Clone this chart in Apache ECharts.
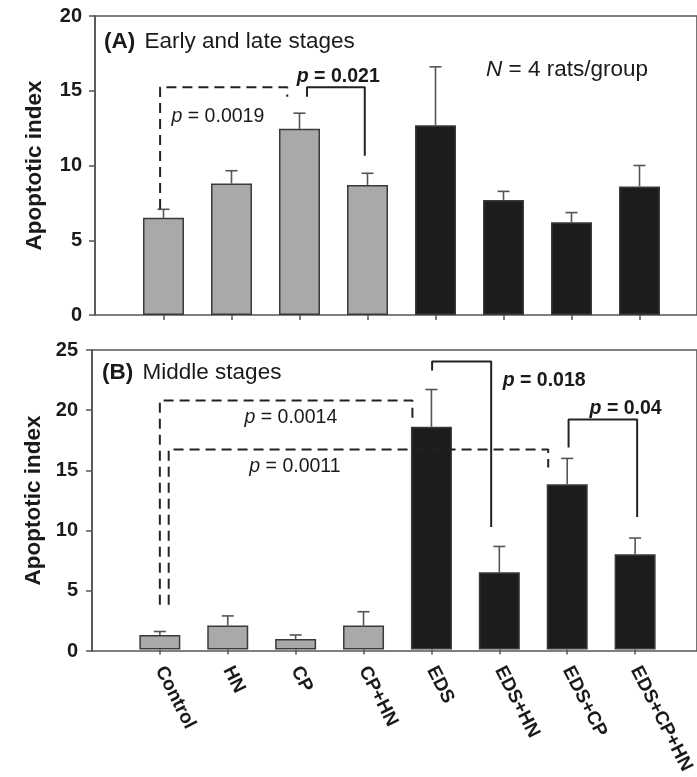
<!DOCTYPE html>
<html>
<head>
<meta charset="utf-8">
<script src="https://cdn.jsdelivr.net/npm/echarts@6/dist/echarts.min.js"></script>
<style>html,body{margin:0;padding:0;background:#fff;}#c{width:697px;height:777px;}</style>
</head>
<body>
<div id="c"></div>
<script>
var categories = ['Control', 'HN', 'CP', 'CP+HN', 'EDS', 'EDS+HN', 'EDS+CP', 'EDS+CP+HN'];
var earlyMean = [6.5, 8.8, 12.45, 8.7, 12.7, 7.7, 6.2, 8.6];
var earlySem = [0.57, 0.85, 1.05, 0.78, 3.9, 0.57, 0.65, 1.4];
var middleMean = [1.2, 2.0, 0.88, 2.0, 18.6, 6.45, 13.8, 7.95];
var middleSem = [0.3, 0.8, 0.33, 1.15, 3.1, 2.15, 2.15, 1.35];
var yTicksA = { min: 0, max: 20, interval: 5 };
var yTicksB = { min: 0, max: 25, interval: 5 };

// significance brackets: [x (category units), y (value)]
var bracketA1 = [[-0.05, 7.09], [-0.05, 15.23], [1.82, 15.23], [1.82, 14.6]];
var bracketA2 = [[2.11, 14.6], [2.11, 15.23], [2.96, 15.23], [2.96, 10.66]];
var bracketB1 = [[0.0, 3.74], [0.0, 20.79], [3.72, 20.79], [3.72, 19.19]];
var bracketB2 = [[0.13, 3.74], [0.13, 16.69], [5.72, 16.69], [5.72, 15.2]];
var bracketB3 = [[4.01, 23.28], [4.01, 24.03], [4.88, 24.03], [4.88, 10.22]];
var bracketB4 = [[6.02, 16.86], [6.02, 19.19], [7.03, 19.19], [7.03, 11.05]];
// p-value labels: [x, y, value text, bold]
var pLabelsA = [[0.80, 13.24, '0.0019', 0], [2.57, 15.92, '0.021', 1]];
var pLabelsB = [[1.93, 19.35, '0.0014', 0], [1.99, 15.28, '0.0011', 0], [5.66, 22.43, '0.018', 1], [6.86, 20.1, '0.04', 1]];

var FONT = 'Liberation Sans, Arial, Helvetica, sans-serif';
var TXT = '#1a1a1a';
var AX = '#555';

function barColor(p) { return p.dataIndex < 4 ? '#a9a9a9' : '#1c1c1c'; }

function errorSeries(means, sems, xi, yi) {
  return {
    type: 'custom', xAxisIndex: xi, yAxisIndex: yi, silent: true, z: 1,
    data: means.map(function (m, i) { return [i, m, sems[i]]; }),
    renderItem: function (params, api) {
      var x = api.value(0), m = api.value(1), s = api.value(2);
      var p0 = api.coord([x, m]);
      var p1 = api.coord([x, m + s]);
      var st = { stroke: AX, lineWidth: 1.6 };
      return {
        type: 'group', children: [
          { type: 'line', shape: { x1: p0[0], y1: p0[1], x2: p1[0], y2: p1[1] }, style: st },
          { type: 'line', shape: { x1: p1[0] - 6, y1: p1[1], x2: p1[0] + 6, y2: p1[1] }, style: st }
        ]
      };
    }
  };
}

function bracketSeries(data, dashed, xi, yi) {
  return {
    type: 'line', xAxisIndex: xi, yAxisIndex: yi, data: data, symbol: 'none', silent: true, z: 5,
    lineStyle: { color: '#222', width: 2, type: dashed ? [10, 6] : 'solid' }
  };
}

function pLabelSeries(data, xi, yi) {
  return {
    type: 'scatter', xAxisIndex: xi, yAxisIndex: yi, symbolSize: 1, silent: true, z: 6,
    itemStyle: { color: 'rgba(0,0,0,0)', opacity: 1 },
    data: data,
    label: {
      show: true, position: 'inside', color: TXT, opacity: 1, fontFamily: FONT,
      formatter: function (p) {
        var d = p.data;
        return d[3] ? '{bi|p}{b| = ' + d[2] + '}' : '{i|p}{n| = ' + d[2] + '}';
      },
      rich: {
        i: { fontStyle: 'italic', fontSize: 19.5, fontFamily: FONT, color: TXT },
        n: { fontSize: 19.5, fontFamily: FONT, color: TXT },
        bi: { fontStyle: 'italic', fontWeight: 'bold', fontSize: 19.5, fontFamily: FONT, color: TXT },
        b: { fontWeight: 'bold', fontSize: 19.5, fontFamily: FONT, color: TXT }
      }
    }
  };
}

function frameY(t, gi, gap, lm) {
  return {
    type: 'value', gridIndex: gi, min: t.min, max: t.max, interval: t.interval,
    name: 'Apoptotic index', nameLocation: 'middle', nameGap: gap,
    nameTextStyle: { fontSize: 22.5, fontWeight: 'bold', color: TXT, fontFamily: FONT },
    axisLine: { show: true, lineStyle: { color: AX, width: 1.6 } },
    axisTick: { show: true, length: 6, lineStyle: { color: AX, width: 1.5 } },
    axisLabel: { fontSize: 20, fontWeight: 'bold', color: TXT, fontFamily: FONT, margin: lm },
    splitLine: { show: false }
  };
}
function hiddenY(t, gi) {
  return { type: 'value', gridIndex: gi, min: t.min, max: t.max, interval: t.interval, show: false };
}
function catX(gi, showLabels) {
  return {
    type: 'category', gridIndex: gi, data: categories, boundaryGap: true,
    axisLine: { show: false },
    axisTick: { show: true, interval: 0, alignWithLabel: true, length: 5, lineStyle: { color: AX, width: 1.5 } },
    axisLabel: showLabels ? {
      show: true, rotate: -63, fontSize: 19, fontWeight: 'bold', color: TXT, fontFamily: FONT, margin: 18, interval: 0
    } : { show: false }
  };
}

var chart = echarts.init(document.getElementById('c'), null, { renderer: 'canvas' });
chart.setOption({
  animation: false,
  backgroundColor: '#fff',
  grid: [
    { left: 95, right: -5, top: 16, height: 299, show: true, borderColor: AX, borderWidth: 1.6, backgroundColor: 'transparent' },
    { left: 129.5, right: 23.5, top: 16, height: 299 },
    { left: 92, right: -5, top: 350, height: 301, show: true, borderColor: AX, borderWidth: 1.6, backgroundColor: 'transparent' },
    { left: 125.9, right: 24.9, top: 350, height: 301 }
  ],
  xAxis: [
    { type: 'value', gridIndex: 0, min: 0, max: 1, show: false },
    catX(1, false),
    { type: 'value', gridIndex: 1, min: -0.5, max: 7.5, show: false },
    { type: 'value', gridIndex: 2, min: 0, max: 1, show: false },
    catX(3, true),
    { type: 'value', gridIndex: 3, min: -0.5, max: 7.5, show: false }
  ],
  yAxis: [frameY(yTicksA, 0, 49, 13), hiddenY(yTicksA, 1), frameY(yTicksB, 2, 46, 14), hiddenY(yTicksB, 3)],
  graphic: [
    { type: 'text', x: 104, y: 42, style: { verticalAlign: 'middle', align: 'left', rich: {
        b: { fontWeight: 'bold', fontSize: 22.5, fontFamily: FONT, fill: TXT, padding: [0, 6, 0, 0] },
        n: { fontSize: 22.5, fontFamily: FONT, fill: TXT } },
      text: '{b|(A)} {n|Early and late stages}' } },
    { type: 'text', x: 486, y: 70, style: { verticalAlign: 'middle', align: 'left', rich: {
        i: { fontStyle: 'italic', fontSize: 22.5, fontFamily: FONT, fill: TXT },
        n: { fontSize: 22.5, fontFamily: FONT, fill: TXT } },
      text: '{i|N}{n| = 4 rats/group}' } },
    { type: 'text', x: 102, y: 373, style: { verticalAlign: 'middle', align: 'left', rich: {
        b: { fontWeight: 'bold', fontSize: 22.5, fontFamily: FONT, fill: TXT, padding: [0, 6, 0, 0] },
        n: { fontSize: 22.5, fontFamily: FONT, fill: TXT } },
      text: '{b|(B)} {n|Middle stages}' } }
  ],
  series: [
    { type: 'bar', xAxisIndex: 1, yAxisIndex: 1, data: earlyMean, barWidth: 41, z: 2,
      itemStyle: { color: barColor, borderColor: '#3a3a3a', borderWidth: 1.5 } },
    errorSeries(earlyMean, earlySem, 1, 1),
    bracketSeries(bracketA1, true, 2, 1),
    bracketSeries(bracketA2, false, 2, 1),
    pLabelSeries(pLabelsA, 2, 1),
    { type: 'bar', xAxisIndex: 4, yAxisIndex: 3, data: middleMean, barWidth: 41, z: 2,
      itemStyle: { color: barColor, borderColor: '#3a3a3a', borderWidth: 1.5 } },
    errorSeries(middleMean, middleSem, 4, 3),
    bracketSeries(bracketB1, true, 5, 3),
    bracketSeries(bracketB2, true, 5, 3),
    bracketSeries(bracketB3, false, 5, 3),
    bracketSeries(bracketB4, false, 5, 3),
    pLabelSeries(pLabelsB, 5, 3)
  ]
});
</script>
</body>
</html>
